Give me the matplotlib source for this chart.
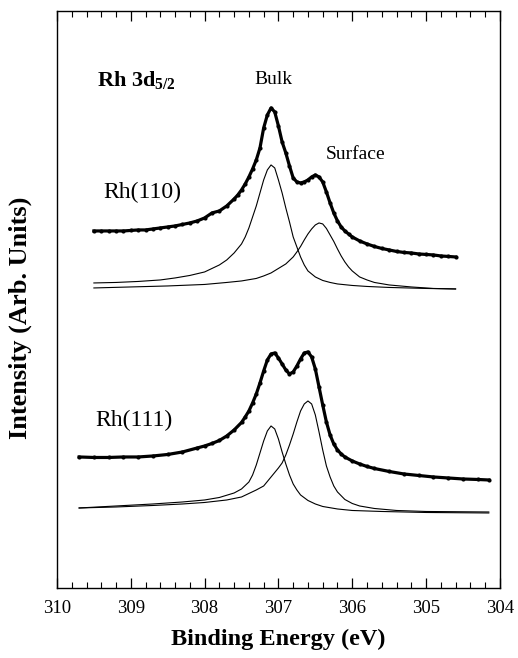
import matplotlib
matplotlib.use("Agg")
import matplotlib.pyplot as plt
from matplotlib.ticker import MultipleLocator

plt.rcParams['font.family'] = ['Liberation Serif', 'DejaVu Serif']
plt.rcParams['mathtext.fontset'] = 'custom'
plt.rcParams['mathtext.rm'] = 'Liberation Serif'
plt.rcParams['mathtext.bf'] = 'Liberation Serif:bold'

# --- Rh(110): measured spectrum (binding energy in eV, intensity arb.) ---
be_110 = [309.50, 309.40, 309.30, 309.20, 309.10, 309.00, 308.90, 308.80, 308.70,
          308.60, 308.50, 308.40, 308.30, 308.20, 308.10, 308.00, 307.90, 307.80,
          307.70, 307.60, 307.55, 307.50, 307.45, 307.40, 307.35, 307.30, 307.25,
          307.20, 307.15, 307.10, 307.05, 307.00, 306.95, 306.90, 306.85, 306.80,
          306.75, 306.70, 306.65, 306.60, 306.55, 306.50, 306.45, 306.40, 306.35,
          306.30, 306.25, 306.20, 306.15, 306.10, 306.05, 306.00, 305.90, 305.80,
          305.70, 305.60, 305.50, 305.40, 305.30, 305.20, 305.10, 305.00, 304.90,
          304.80, 304.70, 304.60]
int_110 = [357, 357, 357, 357, 357, 357.5, 358, 358, 359,
           360, 361, 362, 363.5, 365, 367, 370, 375, 377,
           382, 389, 393, 398, 404, 411, 419, 428, 440,
           460, 473, 480, 476, 462, 446, 435, 422, 410,
           406, 405, 406, 408, 411, 413, 411, 406, 396,
           385, 375, 367, 361, 357, 354, 351, 347, 344,
           341.5, 339.5, 338, 336.5, 335.5, 335, 334, 333.5, 333,
           332, 331.5, 331]

# Rh(110) fitted components
be_110_bulk = [309.50, 309.20, 308.90, 308.60, 308.40, 308.20, 308.00, 307.90, 307.80,
               307.70, 307.60, 307.50, 307.45, 307.40, 307.35, 307.30, 307.25, 307.20,
               307.15, 307.10, 307.05, 307.00, 306.95, 306.90, 306.85, 306.80, 306.75,
               306.70, 306.65, 306.60, 306.50, 306.40, 306.30, 306.20, 306.00, 305.80,
               305.50, 305.00, 304.60]
int_110_bulk = [305, 305.5, 306.5, 308, 310, 312.5, 316, 319.5, 323,
                328, 335, 344, 351, 360, 371, 382, 395, 408,
                418, 423, 420, 408, 395, 380, 366, 351, 341,
                331, 323, 317, 311, 307.5, 305.5, 304, 302.5, 301.5,
                300.5, 299.5, 299]
be_110_surf = [309.50, 309.00, 308.50, 308.00, 307.70, 307.50, 307.30, 307.20, 307.10,
               307.00, 306.90, 306.80, 306.75, 306.70, 306.65, 306.60, 306.55, 306.50,
               306.45, 306.40, 306.35, 306.30, 306.25, 306.20, 306.15, 306.10, 306.05,
               306.00, 305.90, 305.80, 305.70, 305.50, 305.20, 304.90, 304.60]
int_110_surf = [300, 301, 302, 303.5, 305.5, 307, 309.5, 312, 315,
                319.5, 324, 331, 336, 341.5, 348, 354, 359, 363,
                365, 364, 359.5, 353, 346.5, 339, 332, 326, 321,
                317, 311, 308, 305.5, 303, 301, 299.5, 299]

# --- Rh(111): measured spectrum ---
be_111 = [309.70, 309.50, 309.30, 309.10, 308.90, 308.70, 308.50, 308.30, 308.10,
          308.00, 307.90, 307.80, 307.70, 307.60, 307.50, 307.45, 307.40, 307.35,
          307.30, 307.25, 307.20, 307.15, 307.10, 307.05, 307.00, 306.95, 306.90,
          306.85, 306.80, 306.75, 306.70, 306.65, 306.60, 306.55, 306.50, 306.45,
          306.40, 306.35, 306.30, 306.25, 306.20, 306.15, 306.10, 306.00, 305.90,
          305.80, 305.70, 305.50, 305.30, 305.10, 304.90, 304.70, 304.50, 304.30,
          304.15]
int_111 = [131, 130.5, 130.5, 131, 131, 132, 133.5, 136, 140,
           142, 144.5, 147.5, 152, 158, 165.5, 171, 177, 185,
           194, 205, 217, 228, 234, 235, 230, 224, 218,
           214, 216, 222, 229, 235, 236, 231, 219, 201,
           183, 166, 153, 144, 138, 134, 131, 127, 124,
           121.5, 119.5, 116.5, 114, 112.5, 111, 110, 109, 108.5,
           108]

# Rh(111) fitted components
be_111_bulk = [309.70, 309.20, 308.70, 308.30, 308.00, 307.80, 307.60, 307.50, 307.40,
               307.35, 307.30, 307.25, 307.20, 307.15, 307.10, 307.05, 307.00, 306.95,
               306.90, 306.85, 306.80, 306.75, 306.70, 306.60, 306.50, 306.40, 306.20,
               306.00, 305.60, 305.00, 304.15]
int_111_bulk = [80, 82, 84, 86, 88, 90.5, 95, 99, 106,
                113, 123, 135, 147, 157, 162, 159, 149, 136,
                124, 113, 104, 98, 93, 87.5, 84, 81.5, 79,
                77.5, 76.5, 75.5, 75]
be_111_surf = [309.70, 309.20, 308.70, 308.30, 308.00, 307.70, 307.50, 307.30, 307.20,
               307.10, 307.00, 306.95, 306.90, 306.85, 306.80, 306.75, 306.70, 306.65,
               306.60, 306.55, 306.50, 306.45, 306.40, 306.35, 306.30, 306.25, 306.20,
               306.10, 306.00, 305.90, 305.70, 305.40, 305.00, 304.15]
int_111_surf = [80, 81, 82.5, 84, 85.5, 88, 91, 98, 102,
                111, 120, 125, 133, 143, 154, 166, 177, 184,
                187, 184, 173, 156, 138, 122, 111, 102, 96,
                88.5, 84.5, 82, 79.5, 77.5, 76.5, 76]

fig = plt.figure(figsize=(5.18, 6.58), dpi=100)
ax = fig.add_axes([0.110, 0.1064, 0.855, 0.877])

# measured spectra: thick line with dots
for be, inten in [(be_110, int_110), (be_111, int_111)]:
    ax.plot(be, inten, color='black', linewidth=2.3, marker='o', markersize=3.0,
            markeredgewidth=0)

# fit components: thin lines
for be, inten in [(be_110_bulk, int_110_bulk), (be_110_surf, int_110_surf),
                  (be_111_bulk, int_111_bulk), (be_111_surf, int_111_surf)]:
    ax.plot(be, inten, color='black', linewidth=0.8)

ax.set_xlim(310, 304)
ax.set_ylim(0, 577)
ax.xaxis.set_major_locator(MultipleLocator(1))
ax.xaxis.set_minor_locator(MultipleLocator(0.2))
ax.tick_params(axis='x', which='both', direction='in', top=True, bottom=True,
               labelsize=13.5, pad=9)
ax.tick_params(axis='x', which='major', length=7, width=0.9)
ax.tick_params(axis='x', which='minor', length=4, width=0.8)
ax.set_yticks([])
for sp in ax.spines.values():
    sp.set_linewidth(1.0)

ax.set_xlabel('Binding Energy (eV)', fontsize=17.5, fontweight='bold', labelpad=8)
fig.text(20 / 518, 1 - 318 / 658, 'Intensity (Arb. Units)', rotation=90,
         fontsize=19, fontweight='bold', ha='center', va='center')

ax.text(309.46, 508, r'Rh 3d$\mathbf{_{5/2}}$', fontsize=16, fontweight='bold',
        ha='left', va='center')
ax.text(307.07, 508, 'Bulk', fontsize=14, ha='center', va='center')
ax.text(305.96, 433, 'Surface', fontsize=14, ha='center', va='center')
ax.text(308.84, 395, 'Rh(110)', fontsize=17, ha='center', va='center')
ax.text(308.96, 168, 'Rh(111)', fontsize=17, ha='center', va='center')

fig.savefig('out.png', dpi=100)
